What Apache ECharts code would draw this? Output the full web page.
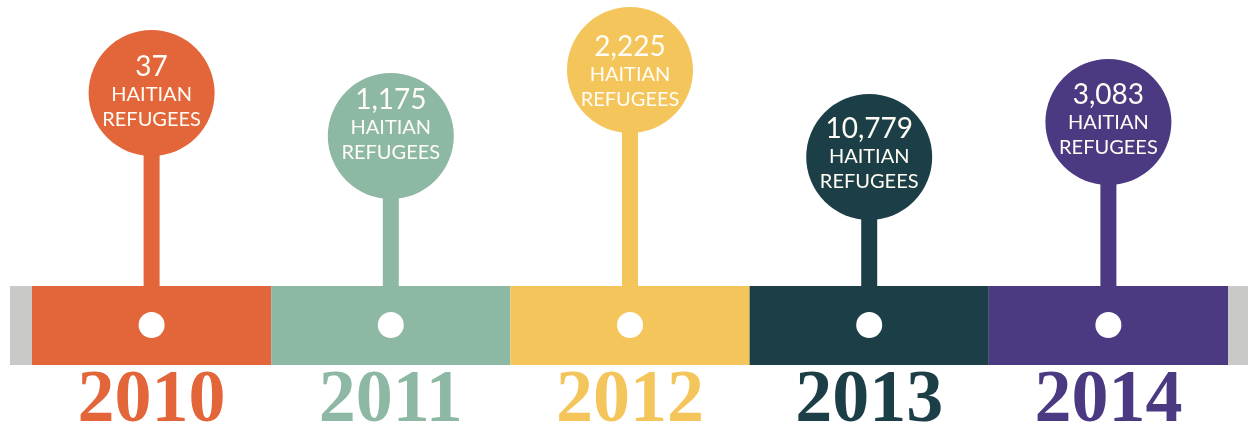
<!DOCTYPE html>
<html><head><meta charset="utf-8">
<script src="https://cdn.jsdelivr.net/npm/echarts@6/dist/echarts.min.js"></script>
<style>html,body{margin:0;padding:0;background:#fff}#c{width:1248px;height:424px}</style>
</head><body><div id="c"></div>
<script>
// ---- data ----
const years = ['2010', '2011', '2012', '2013', '2014'];
const refugees = [37, 1175, 2225, 10779, 3083];
const captionLines = ['HAITIAN', 'REFUGEES'];

// ---- layout / style (not data) ----
const colors = ['#E2663A', '#8DB8A3', '#F4C55B', '#1C3F47', '#4B3A82'];
const bubbleCenterY = [93, 136, 70, 157, 122];
const captionCenterY = [95, 128, 75, 157, 123];
const BAR_TOP = 286, BAR_BOTTOM = 365, DOT_Y = 325, YEAR_Y = 402;
const BUBBLE_R = 63, STEM_W = 16, DOT_R = 13;

const chart = echarts.init(document.getElementById('c'));
chart.setOption({
  animation: false,
  grid: { left: 32, right: 20, top: 0, bottom: 0 },
  xAxis: { type: 'category', data: years, boundaryGap: true, show: false },
  yAxis: { type: 'value', min: 0, max: 424, inverse: true, show: false },
  graphic: [
    { type: 'rect', shape: { x: 10, y: BAR_TOP, width: 22, height: BAR_BOTTOM - BAR_TOP }, style: { fill: '#C9C9C7' }, z: 0 },
    { type: 'rect', shape: { x: 1228, y: BAR_TOP, width: 20, height: BAR_BOTTOM - BAR_TOP }, style: { fill: '#C9C9C7' }, z: 0 }
  ],
  series: [{
    type: 'custom',
    data: refugees.map((v, i) => [i, v]),
    renderItem: function (params, api) {
      const i = api.value(0);
      const val = api.value(1);
      const band = api.size([1, 0])[0];
      const cx = api.coord([i, 0])[0];
      const yTop = api.coord([i, BAR_TOP])[1];
      const yBot = api.coord([i, BAR_BOTTOM])[1];
      const cy = api.coord([i, bubbleCenterY[i]])[1];
      const ty = api.coord([i, captionCenterY[i]])[1];
      const dotY = api.coord([i, DOT_Y])[1];
      const yearY = api.coord([i, YEAR_Y])[1];
      const col = colors[i];
      const txtFont = 'Lato, "Open Sans", sans-serif';
      return {
        type: 'group',
        children: [
          { type: 'rect', shape: { x: cx - band / 2, y: yTop, width: band, height: yBot - yTop }, style: { fill: col } },
          { type: 'rect', shape: { x: cx - STEM_W / 2, y: cy, width: STEM_W, height: yTop - cy + 1 }, style: { fill: col } },
          { type: 'circle', shape: { cx: cx, cy: cy, r: BUBBLE_R }, style: { fill: col } },
          { type: 'circle', shape: { cx: cx, cy: dotY, r: DOT_R }, style: { fill: '#FFFFFF' } },
          { type: 'text', x: cx, y: ty - 28, style: { text: val.toLocaleString('en-US'), fill: '#FFFDF5', font: '400 28px ' + txtFont, align: 'center', verticalAlign: 'middle' } },
          { type: 'text', x: cx, y: ty, style: { text: captionLines[0], fill: '#FFFDF5', font: '400 20px ' + txtFont, align: 'center', verticalAlign: 'middle' } },
          { type: 'text', x: cx, y: ty + 25, style: { text: captionLines[1], fill: '#FFFDF5', font: '400 20px ' + txtFont, align: 'center', verticalAlign: 'middle' } },
          { type: 'text', x: cx, y: yearY, style: { text: years[i], fill: col, font: 'bold 74px "Liberation Serif", "DejaVu Serif", serif', align: 'center', verticalAlign: 'middle' } }
        ]
      };
    }
  }]
});
</script></body></html>
